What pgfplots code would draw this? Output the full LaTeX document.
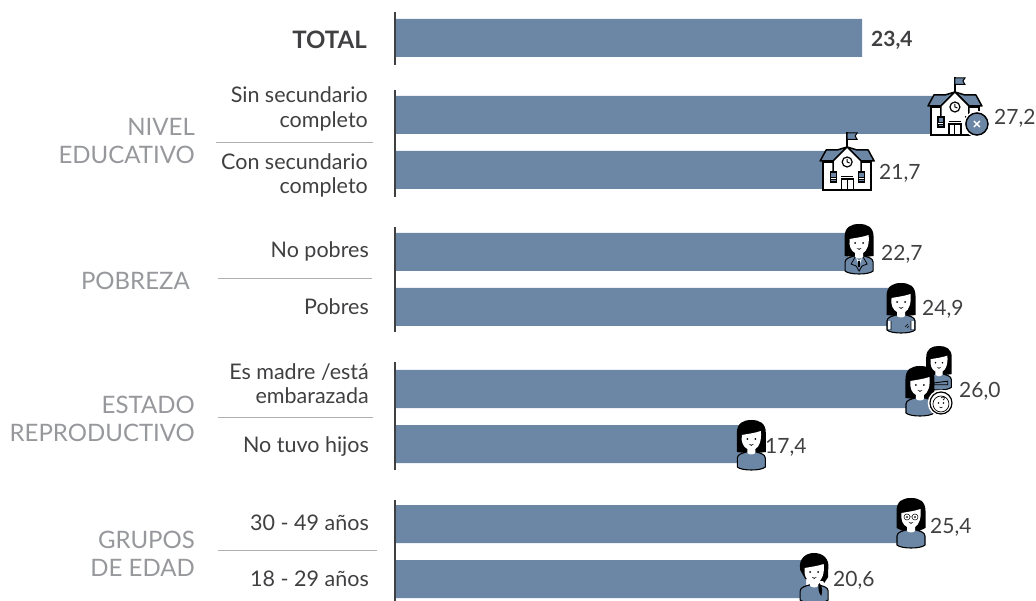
\documentclass[border=0pt]{standalone}
\usepackage{pgfplots}
\pgfplotsset{compat=1.18}
\usepackage{fontspec}
\setmainfont{Lato}
\definecolor{barblue}{HTML}{6C87A5}
\definecolor{txt}{HTML}{404042}
\definecolor{grp}{HTML}{96989C}
\definecolor{sep}{HTML}{B0B0B0}
\newcommand\Sub[3]{\node[anchor=base east,inner sep=0,text=txt,font=\fontsize{21.5}{24}\selectfont] at (#1,#2) {#3};}
\newcommand\Grp[3]{\node[anchor=base east,inner sep=0,text=grp,font=\fontsize{24}{26}\selectfont] at (#1,#2) {#3};}
\newcommand\Val[3]{\node[anchor=base west,inner sep=0,text=txt,font=\fontsize{21}{24}\selectfont] at (#1,#2) {#3};}
% local icon coordinates: origin at the top centre, y downwards, in px
\newcommand\Body{\draw[black,line width=1.1pt,fill=barblue] (-14,38) .. controls (-14,34) and (-8,33) .. (-5,32) -- (5,32) .. controls (8,33) and (14,34) .. (14,38) -- (14,47) .. controls (10,51) and (-10,51) .. (-14,47) -- cycle;}
\newcommand\LongHair{\fill[black] (-14.5,32) -- (-14.5,13) .. controls (-14.5,3) and (-8,0) .. (0,0) .. controls (8,0) and (14.5,3) .. (14.5,13) -- (14.5,32) -- (6,33) -- (-6,33) -- cycle;}
\newcommand\Face{\fill[white] (-9.5,15) .. controls (-4,14) and (4,13) .. (9.5,11) .. controls (10.5,20) and (8,27) .. (4,29) -- (4,33) .. controls (2,35) and (-2,35) .. (-4,33) -- (-4,29) .. controls (-8,27) and (-10.5,22) .. (-9.5,15) -- cycle;
  \fill[black] (-4,19) circle (1); \fill[black] (4,19) circle (1);
  \fill[black] (-2.5,24) .. controls (-1,25) and (1,25) .. (2.5,24) .. controls (1.5,26.5) and (-1.5,26.5) .. (-2.5,24) -- cycle;}
\newcommand\School{%
  \draw[black,line width=1.4pt] (0,0) -- (0,15);
  \fill[barblue,draw=black,line width=1pt] (0,1) -- (10,1) -- (8,4) -- (10,7.5) -- (0,7.5) -- cycle;
  \draw[black,line width=1.5pt,fill=white] (-24,30) rectangle (24,58);
  \draw[black,line width=1.5pt,fill=barblue,line join=round] (-27,29) -- (-21,18) -- (-10,18) -- (0,15) -- (10,18) -- (21,18) -- (27,29) -- (14,29) -- (0,15) -- (-14,29) -- cycle;
  \draw[black,line width=1.5pt,fill=white] (-14,29) -- (0,15) -- (14,29) -- (14,40) -- (-14,40) -- cycle;
  \fill[white] (-12.5,29) rectangle (12.5,45);
  \draw[black,line width=1.2pt] (0,30) circle (5);
  \draw[black,line width=.9pt] (0,27) -- (0,30) -- (2.5,31);
  \draw[black,line width=1.2pt,fill=white] (-6,47) rectangle (6,58);
  \draw[black,line width=1.1pt] (0,47) -- (0,58) (-6,44.5) -- (6,44.5);
  \draw[black,line width=1.2pt,fill=barblue] (-17,40) rectangle (-11,50);
  \draw[black,line width=.9pt,fill=white] (-17,45) rectangle (-11,47);
  \draw[black,line width=1.2pt,fill=barblue] (11,40) rectangle (17,50);
  \draw[black,line width=.9pt,fill=white] (11,45) rectangle (17,47);
}
\begin{document}
\begin{tikzpicture}
\path[use as bounding box] (0,0) rectangle (1036pt,601pt);
\begin{axis}[
  at={(0,0)},anchor=south west,
  x=19.96pt,y=1pt,y dir=reverse,
  xmin=-19.79,xmax=32.114,ymin=0,ymax=601,
  hide axis,xbar,bar width=38pt,clip=false]
\addplot[fill=barblue,draw=none,bar shift=0pt] coordinates {
  (23.4,38) (27.2,115) (21.7,170) (22.7,252) (24.9,307)
  (26.0,389) (17.4,444) (25.4,524) (20.6,579)};
\coordinate (a1) at (axis cs:27.2,115);
\coordinate (a2) at (axis cs:21.7,170);
\coordinate (b1) at (axis cs:22.7,252);
\coordinate (b2) at (axis cs:24.9,307);
\coordinate (c1) at (axis cs:26.0,389);
\coordinate (c2) at (axis cs:17.4,444);
\coordinate (d1) at (axis cs:25.4,524);
\coordinate (d2) at (axis cs:20.6,579);
\end{axis}
\begin{scope}[shift={(0,601pt)},x=1pt,y=-1pt]
\foreach \a/\b in {12/65,90/197,227/332,362/470,500/601}
  \draw[txt,line width=2pt] (395,\a) -- (395,\b);
\foreach \a/\b/\c in {216/373/143,218/372/279,218/373/418,218/377/551}
  \draw[sep,line width=1pt] (\a,\c) -- (\b,\c);
\node[anchor=base east,inner sep=0,text=txt,font=\fontsize{24}{26}\selectfont\bfseries] at (367,49) {TOTAL};
\Sub{368}{103}{Sin secundario}
\Sub{368}{128}{completo}
\Sub{368}{170}{Con secundario}
\Sub{368}{194}{completo}
\Sub{369}{258}{No pobres}
\Sub{369}{315}{Pobres}
\Sub{369}{380}{Es madre /está}
\Sub{369}{404}{embarazada}
\Sub{369}{453}{No tuvo hijos}
\Sub{369}{531}{30 - 49 años}
\Sub{369}{587}{18 - 29 años}
\Grp{195}{136}{NIVEL}
\Grp{195}{164}{EDUCATIVO}
\Grp{190}{290}{POBREZA}
\Grp{195}{414}{ESTADO}
\Grp{195}{442}{REPRODUCTIVO}
\Grp{195}{549}{GRUPOS}
\Grp{195}{577}{DE EDAD}
\node[anchor=base west,inner sep=0,text=txt,font=\fontsize{21}{24}\selectfont\bfseries] at (871,47) {23,4};
\Val{994}{125}{27,2}
\Val{879}{180}{21,7}
\Val{881}{261}{22,7}
\Val{922}{316}{24,9}
\Val{959}{398}{26,0}
\Val{765}{454}{17,4}
\Val{930}{534}{25,4}
\Val{833}{587}{20,6}
\end{scope}
% schools
\begin{scope}[shift={(a1)},xshift=17pt,yshift=38pt,x=1pt,y=-1pt]
\School
\draw[white,line width=1.5pt,fill=barblue] (22,47) circle (12.5);
\draw[black,line width=1.4pt] (22,47) circle (11);
\draw[white,line width=1.4pt] (19,44) -- (25,50) (25,44) -- (19,50);
\end{scope}
\begin{scope}[shift={(a2)},xshift=19pt,yshift=38pt,x=1pt,y=-1pt]
\School
\end{scope}
% 22,7 suit
\begin{scope}[shift={(b1)},xshift=11pt,yshift=28pt,x=1pt,y=-1pt]
\LongHair \Body \Face
\draw[black,line width=.8pt] (-4,33) -- (-8,40) -- (-3,42) -- (0,47) -- (3,42) -- (8,40) -- (4,33);
\fill[white] (-3,34) -- (0,37) -- (3,34) -- (0,42) -- cycle;
\fill[black] (-1,37) rectangle (1,43);
\end{scope}
% 24,9 T-shirt
\begin{scope}[shift={(b2)},xshift=9pt,yshift=24pt,x=1pt,y=-1pt]
\LongHair \Body \Face
\fill[white] (-13,38) rectangle (-10,46);
\fill[white] (10,38) rectangle (13,46);
\draw[black,line width=.6pt] (-10,38) -- (-10,47) (10,38) -- (10,47) (4,44) -- (7,41) (6,45) -- (8,43);
\end{scope}
% 26,0 two women and baby
\begin{scope}[shift={(c1)},xshift=25pt,yshift=43pt,x=1pt,y=-1pt,scale=.88]
\LongHair \Body \Face
\draw[black,line width=.9pt,fill=barblue] (-6,42) -- (10,40) -- (10,44) -- (-6,44) -- cycle;
\end{scope}
\begin{scope}[shift={(c1)},xshift=6pt,yshift=23pt,x=1pt,y=-1pt]
\LongHair \Body \Face
\draw[white,line width=1.5pt,fill=white] (21,37) circle (12.5);
\draw[black,line width=1.2pt] (21,37) circle (11);
\draw[black,line width=.7pt] (21,38) circle (8);
\draw[black,line width=.7pt] (21,32) .. controls (24,29) and (26,33) .. (23,34);
\fill[black] (18.5,37) circle (.8); \fill[black] (23.5,37) circle (.8);
\draw[black,line width=.6pt] (19.5,41) .. controls (20.5,42) and (21.5,42) .. (22.5,41);
\end{scope}
% 17,4
\begin{scope}[shift={(c2)},xshift=9pt,yshift=24pt,x=1pt,y=-1pt]
\LongHair \Body \Face
\end{scope}
% 25,4 glasses
\begin{scope}[shift={(d1)},xshift=9pt,yshift=26pt,x=1pt,y=-1pt]
\fill[black] (-14.5,30) -- (-14.5,13) .. controls (-14.5,3) and (-8,0) .. (0,0) .. controls (8,0) and (14.5,3) .. (14.5,13) -- (14.5,30) -- (8,33) -- (-8,33) -- cycle;
\Body \Face
\fill[white] (-4,19) circle (1);\fill[white] (4,19) circle (1);
\draw[black,line width=.5pt] (-4,19) circle (3) (4,19) circle (3) (-1,19) -- (1,19);
\fill[black] (-4,19) circle (.9);\fill[black] (4,19) circle (.9);
\end{scope}
% 20,6 short hair and braid
\begin{scope}[shift={(d2)},xshift=8pt,yshift=26pt,x=1pt,y=-1pt]
\fill[black] (-9,26) -- (-14,17) .. controls (-16,5) and (-8,0) .. (0,0) .. controls (8,0) and (16,5) .. (14,17) -- (14,24) -- (10,30) -- (9,28) -- cycle;
\Body \Face
\fill[black] (5,30) .. controls (9,33) and (8,40) .. (7,43) .. controls (5,40) and (3,36) .. (5,30) -- cycle;
\end{scope}
\end{tikzpicture}
\end{document}
